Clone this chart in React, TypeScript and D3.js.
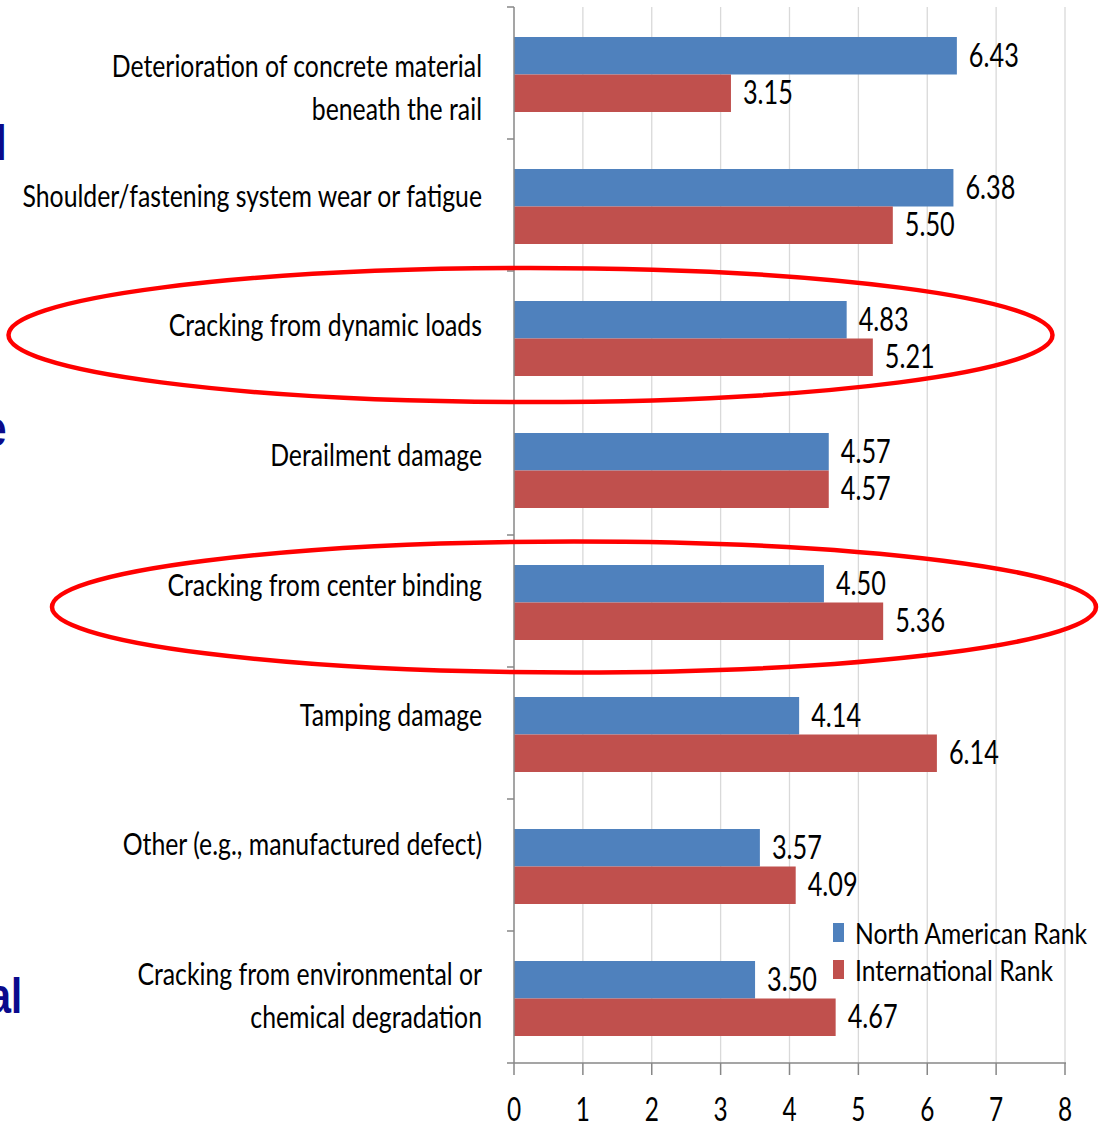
import React from "react";
import * as d3 from "d3";

// ---- data ----
const categoryLines: string[][] = [
  ["Deterioration of concrete material", "beneath the rail"],
  ["Shoulder/fastening system wear or fatigue"],
  ["Cracking from dynamic loads"],
  ["Derailment damage"],
  ["Cracking from center binding"],
  ["Tamping damage"],
  ["Other (e.g., manufactured defect)"],
  ["Cracking from environmental or", "chemical degradation"],
];
const northAmerican = [6.43, 6.38, 4.83, 4.57, 4.5, 4.14, 3.57, 3.5];
const international = [3.15, 5.5, 5.21, 4.57, 5.36, 6.14, 4.09, 4.67];
const seriesNames = ["North American Rank", "International Rank"];
const xTicks = [0, 1, 2, 3, 4, 5, 6, 7, 8];
const highlighted = ["Cracking from dynamic loads", "Cracking from center binding"];
const slideFragments = ["l", "e", "al"];

// ---- style ----
const W = 1099;
const H = 1124;
const BLUE = "#4F81BD";
const RED = "#C0504D";
const AXIS = "#878787";
const GRID = "#D9D9D9";
const FONT = "Lato, 'Open Sans', sans-serif";
const SX = 0.8;

const keys = categoryLines.map((l) => l.join(" "));

function SText(props: {
  x: number;
  y: number;
  size: number;
  anchor?: string;
  fill?: string;
  weight?: string;
  family?: string;
  sx?: number;
  children: React.ReactNode;
}) {
  const { x, y, size, anchor = "start", fill = "#000", weight = "normal", family = FONT, sx = SX } = props;
  return (
    <text
      transform={`translate(${x},${y}) scale(${sx},1)`}
      fontSize={size}
      fontFamily={family}
      fontWeight={weight}
      textAnchor={anchor}
      fill={fill}
    >
      {props.children}
    </text>
  );
}

export default function App() {
  const x = d3.scaleLinear().domain([0, 8]).range([514, 1065]);
  const y = d3.scaleBand<string>().domain(keys).range([7, 1063]).paddingInner(0).paddingOuter(0);
  const inner = d3
    .scaleBand<string>()
    .domain(["na", "intl"])
    .range([1.5, y.bandwidth() + 1.5])
    .paddingInner(0)
    .paddingOuter(0.76);
  const [y0, y1] = y.range();
  const bottom = y1;

  // category label layout (label block spacing slightly tighter than bands)
  const mid = (y0 + y1) / 2;
  const labelY = (c: number) => mid - 15 + (c - mid) * 0.983;
  const labelX = 482;
  const lineGap = 43;

  const fragFont = "'Liberation Sans', Arial, sans-serif";

  return (
    <svg
      width={W}
      height={H}
      style={{ position: "absolute", left: 0, top: 0, background: "#fff" }}
    >
      <rect width={W} height={H} fill="#fff" />

      {/* navy fragments of the slide text behind the chart */}
      <SText x={6.5} y={160} size={50} anchor="end" fill="#0A0A8C" weight="bold" family={fragFont} sx={0.8}>
        {slideFragments[0]}
      </SText>
      <SText x={6.5} y={446} size={50} anchor="end" fill="#0A0A8C" weight="bold" family={fragFont} sx={0.8}>
        {slideFragments[1]}
      </SText>
      <SText x={22} y={1013} size={50} anchor="end" fill="#0A0A8C" weight="bold" family={fragFont} sx={0.8}>
        {slideFragments[2]}
      </SText>

      {/* gridlines */}
      {xTicks.slice(1).map((t) => (
        <line key={"g" + t} x1={x(t)} x2={x(t)} y1={y0} y2={bottom} stroke={GRID} strokeWidth={1.3} />
      ))}

      {/* bars */}
      {keys.map((k, i) => (
        <g key={"b" + k}>
          <rect
            x={x(0)}
            y={y(k)! + inner("na")!}
            width={x(northAmerican[i]) - x(0)}
            height={inner.bandwidth()}
            fill={BLUE}
          />
          <rect
            x={x(0)}
            y={y(k)! + inner("intl")!}
            width={x(international[i]) - x(0)}
            height={inner.bandwidth()}
            fill={RED}
          />
          <SText x={x(northAmerican[i]) + 12} y={y(k)! + inner("na")! + inner.bandwidth() / 2 + 11} size={32} sx={0.79}>
            {d3.format(".2f")(northAmerican[i])}
          </SText>
          <SText x={x(international[i]) + 12} y={y(k)! + inner("intl")! + inner.bandwidth() / 2 + 11} size={32} sx={0.79}>
            {d3.format(".2f")(international[i])}
          </SText>
        </g>
      ))}

      {/* vertical (category) axis */}
      <line x1={x(0)} x2={x(0)} y1={y0} y2={bottom} stroke={AXIS} strokeWidth={1.5} />
      {keys.map((k) => (
        <line key={"ct" + k} x1={x(0) - 7} x2={x(0)} y1={y(k)!} y2={y(k)!} stroke={AXIS} strokeWidth={1.5} />
      ))}

      {/* horizontal (value) axis */}
      <line x1={x(0) - 7} x2={x(8) + 1} y1={bottom} y2={bottom} stroke={AXIS} strokeWidth={1.5} />
      {xTicks.map((t) => (
        <g key={"xt" + t}>
          <line x1={x(t)} x2={x(t)} y1={bottom} y2={bottom + 12} stroke={AXIS} strokeWidth={1.5} />
          <SText x={x(t)} y={1121} size={33} anchor="middle" sx={0.74}>
            {t}
          </SText>
        </g>
      ))}

      {/* category labels */}
      {categoryLines.map((lines, i) => {
        const c = labelY(y(keys[i])! + y.bandwidth() / 2);
        return (
          <g key={"l" + i}>
            {lines.map((ln, j) => (
              <SText key={j} x={labelX} y={c + j * lineGap + 11} size={31} anchor="end">
                {ln}
              </SText>
            ))}
          </g>
        );
      })}

      {/* legend */}
      {seriesNames.map((s, i) => (
        <g key={"lg" + s}>
          <rect x={833} y={923 + i * 37} width={11} height={19} fill={i === 0 ? BLUE : RED} />
          <SText x={855} y={944 + i * 37} size={29} sx={0.85}>
            {s}
          </SText>
        </g>
      ))}

      {/* red highlight ellipses */}
      {highlighted.map((h, i) => {
        const c = y(h)! + y.bandwidth() / 2;
        return (
          <ellipse
            key={"e" + h}
            cx={i === 0 ? 530.5 : 574}
            cy={c + (i === 0 ? -2 : 6)}
            rx={522}
            ry={i === 0 ? 67 : 65.5}
            fill="none"
            stroke="#FF0000"
            strokeWidth={4.5}
          />
        );
      })}
    </svg>
  );
}
